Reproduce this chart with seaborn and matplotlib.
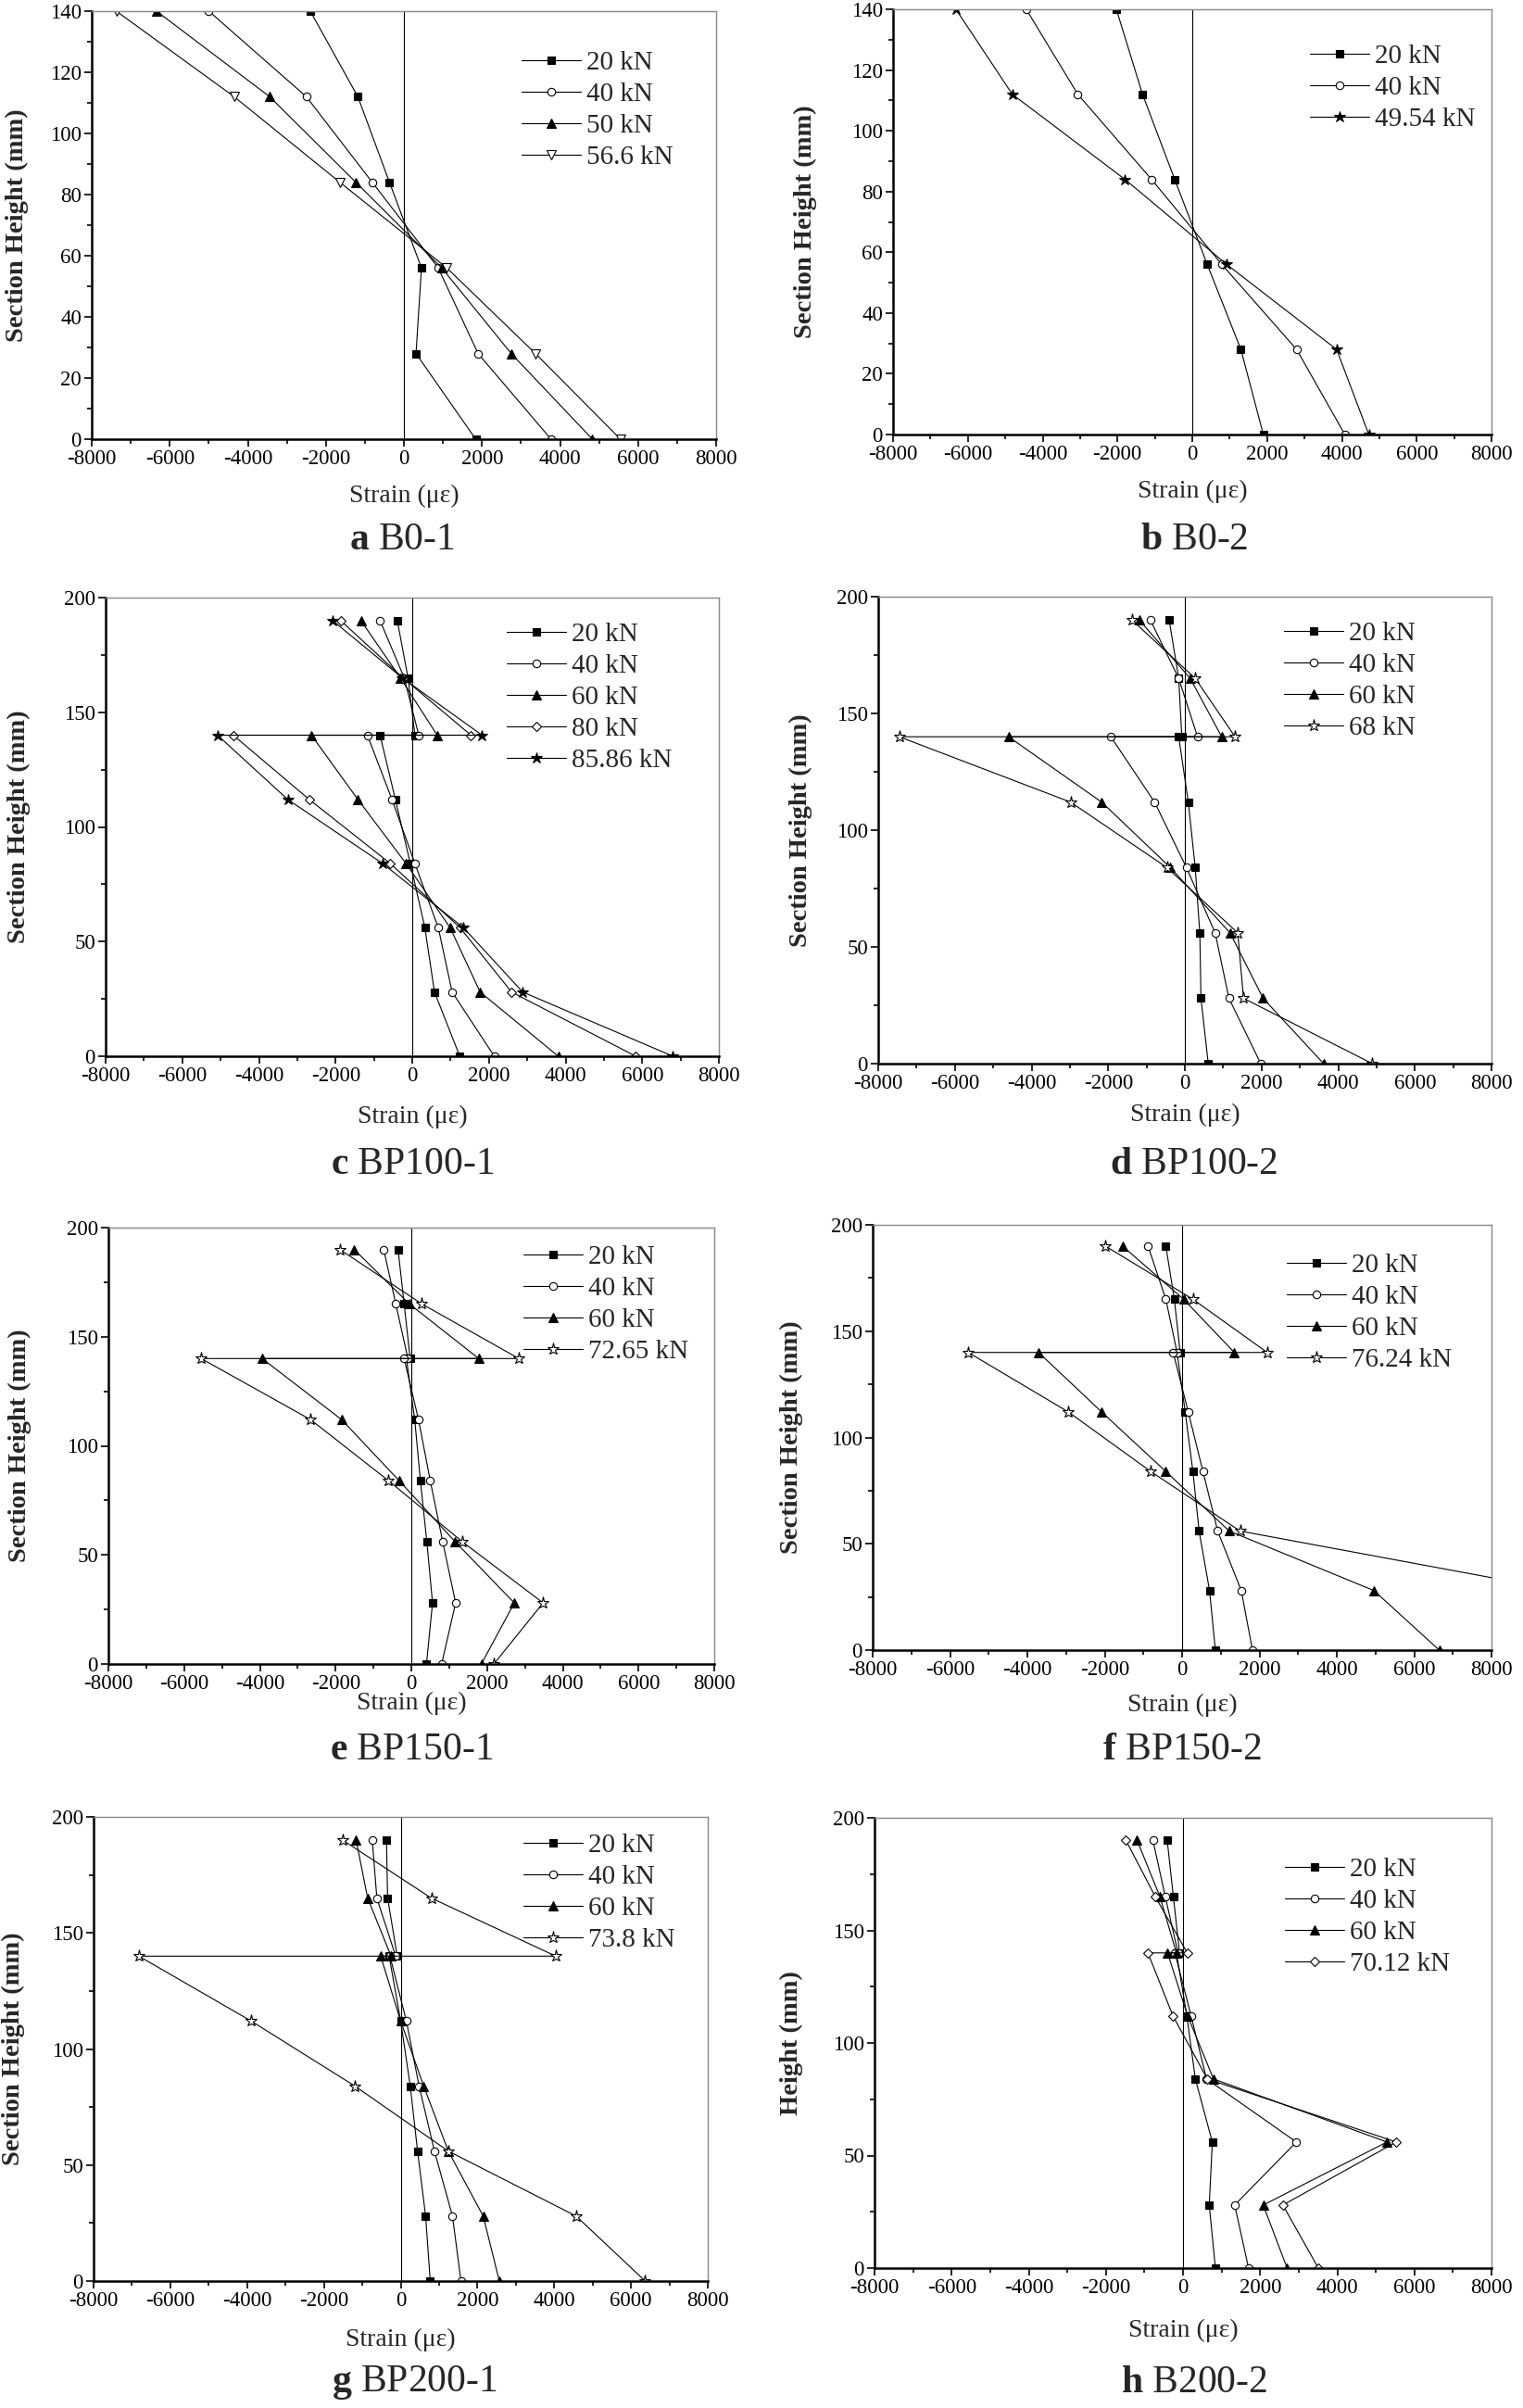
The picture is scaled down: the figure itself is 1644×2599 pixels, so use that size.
import matplotlib
matplotlib.use("Agg")
import matplotlib.pyplot as plt
from matplotlib.ticker import MultipleLocator
import seaborn as sns

# section heights (mm); the BP/B200 beams have two gauges at 140 mm
h_b0 = [140, 112, 84, 56, 28, 0]
h_bp = [190, 165, 140, 140, 112, 84, 56, 28, 0]

# a  B0-1
a_labels = ["20 kN", "40 kN", "50 kN", "56.6 kN"]
a_20 = [-2400, -1180, -370, 450, 310, 1840]
a_40 = [-5000, -2500, -810, 880, 1900, 3770]
a_50 = [-6340, -3440, -1230, 970, 2750, 4830]
a_566 = [-7370, -4350, -1640, 1100, 3370, 5550]

# b  B0-2
b_labels = ["20 kN", "40 kN", "49.54 kN"]
b_20 = [-2030, -1330, -470, 400, 1300, 1900]
b_40 = [-4440, -3060, -1090, 790, 2790, 4080]
b_4954 = [-6320, -4810, -1800, 920, 3860, 4720]

# c  BP100-1
c_labels = ["20 kN", "40 kN", "60 kN", "80 kN", "85.86 kN"]
c_20 = [-390, -110, 70, -840, -440, -50, 330, 580, 1240]
c_40 = [-840, -210, 170, -1170, -530, 70, 680, 1040, 2140]
c_60 = [-1340, -310, 650, -2630, -1420, -160, 990, 1770, 3810]
c_80 = [-1870, -240, 1530, -4670, -2690, -570, 1250, 2590, 5830]
c_8586 = [-2080, -260, 1820, -5080, -3250, -770, 1340, 2880, 6800]

# d  BP100-2
d_labels = ["20 kN", "40 kN", "60 kN", "68 kN"]
d_20 = [-410, -160, -80, -160, 90, 270, 390, 420, 610]
d_40 = [-900, -160, 330, -1930, -790, 40, 790, 1150, 1980]
d_60 = [-1190, 140, 960, -4600, -2170, -380, 1180, 2040, 3620]
d_68 = [-1380, 270, 1310, -7450, -2980, -470, 1380, 1530, 4890]

# e  BP150-1
e_labels = ["20 kN", "40 kN", "60 kN", "72.65 kN"]
e_20 = [-350, -190, -30, -130, 90, 240, 410, 560, 400]
e_40 = [-730, -410, -90, -190, 190, 500, 830, 1170, 800]
e_60 = [-1510, -50, 1780, -3940, -1840, -320, 1160, 2720, 1850]
e_7265 = [-1890, 280, 2840, -5550, -2660, -600, 1350, 3480, 2180]

# f  BP150-2 (76.24 kN runs off the axis below 56 mm, bottom gauge not visible)
f_labels = ["20 kN", "40 kN", "60 kN", "76.24 kN"]
f_20 = [-420, -200, -50, -130, 80, 280, 440, 710, 860]
f_40 = [-880, -420, -130, -230, 160, 540, 920, 1530, 1820]
f_60 = [-1540, 40, 1350, -3710, -2080, -420, 1220, 4960, 6650]
f_7624 = [-1980, 280, 2200, -5530, -2940, -810, 1500, 9800]

# g  BP200-1
g_labels = ["20 kN", "40 kN", "60 kN", "73.8 kN"]
g_20 = [-370, -340, -90, -300, 0, 250, 440, 650, 770]
g_40 = [-740, -620, -130, -280, 150, 480, 880, 1350, 1570]
g_60 = [-1160, -860, -250, -520, 0, 600, 1240, 2150, 2570]
g_738 = [-1510, 800, 4040, -6820, -3890, -1190, 1240, 4570, 6370]

# h  B200-2
h_labels = ["20 kN", "40 kN", "60 kN", "70.12 kN"]
h_20 = [-410, -250, -90, -170, 100, 320, 760, 680, 840]
h_40 = [-780, -460, -130, -210, 210, 610, 2940, 1340, 1700]
h_60 = [-1190, -600, -170, -400, 120, 790, 5290, 2080, 2700]
h_7012 = [-1480, -720, 110, -910, -260, 630, 5530, 2590, 3510]

# marker styles: (marker, face, size)
SQ = ("s", "k", 6)
CI = ("o", "w", 6)
TR = ("^", "k", 7)
TD = ("v", "w", 7)
SF = ("*", "k", 9)
SO = ("*", "w", 9.5)
DI = ("D", "w", 5.5)

sns.set_style("ticks")
plt.rcParams["font.family"] = ["Liberation Serif", "DejaVu Serif"]
plt.rcParams["mathtext.fontset"] = "custom"
plt.rcParams["mathtext.rm"] = "Liberation Serif"
plt.rcParams["mathtext.bf"] = "Liberation Serif:bold"
plt.rcParams["axes.unicode_minus"] = False

W, H = 1644, 2599
fig = plt.figure(figsize=(W / 100, H / 100), dpi=100)

# panel layout in pixels
panels = [
    dict(box=(99, 12, 773, 474), h=h_b0, s=[a_20, a_40, a_50, a_566], lab=a_labels,
         sty=[SQ, CI, TR, TD], ymax=140, ymaj=20, yl="Section Height (mm)",
         yl_x=18, xl_y=535, leg=(563, 55), cap=(434, 583, "a", "B0-1")),
    dict(box=(964, 10, 1610, 469), h=h_b0, s=[b_20, b_40, b_4954], lab=b_labels,
         sty=[SQ, CI, SF], ymax=140, ymaj=20, yl="Section Height (mm)",
         yl_x=869, xl_y=530, leg=(1414, 48), cap=(1289, 583, "b", "B0-2")),
    dict(box=(114, 645, 776, 1140), h=h_bp, s=[c_20, c_40, c_60, c_80, c_8586], lab=c_labels,
         sty=[SQ, CI, TR, DI, SF], ymax=200, ymaj=50, yl="Section Height (mm)",
         yl_x=20, xl_y=1205, leg=(547, 672), cap=(445, 1257, "c", "BP100-1")),
    dict(box=(948, 644, 1610, 1148), h=h_bp, s=[d_20, d_40, d_60, d_68], lab=d_labels,
         sty=[SQ, CI, TR, SO], ymax=200, ymaj=50, yl="Section Height (mm)",
         yl_x=864, xl_y=1203, leg=(1386, 671), cap=(1289, 1257, "d", "BP100-2")),
    dict(box=(117, 1325, 771, 1796), h=h_bp, s=[e_20, e_40, e_60, e_7265], lab=e_labels,
         sty=[SQ, CI, TR, SO], ymax=200, ymaj=50, yl="Section Height (mm)",
         yl_x=21, xl_y=1838, leg=(565, 1344), cap=(444, 1889, "e", "BP150-1")),
    dict(box=(942, 1322, 1610, 1781), h=h_bp, s=[f_20, f_40, f_60, f_7624], lab=f_labels,
         sty=[SQ, CI, TR, SO], ymax=200, ymaj=50, yl="Section Height (mm)",
         yl_x=854, xl_y=1840, leg=(1389, 1353), cap=(1276, 1889, "f", "BP150-2")),
    dict(box=(101, 1961, 764, 2462), h=h_bp, s=[g_20, g_40, g_60, g_738], lab=g_labels,
         sty=[SQ, CI, TR, SO], ymax=200, ymaj=50, yl="Section Height (mm)",
         yl_x=14, xl_y=2525, leg=(565, 1979), cap=(447, 2572, "g", "BP200-1")),
    dict(box=(944, 1962, 1610, 2448), h=h_bp, s=[h_20, h_40, h_60, h_7012], lab=h_labels,
         sty=[SQ, CI, TR, DI], ymax=200, ymaj=50, yl="Height (mm)",
         yl_x=854, xl_y=2515, leg=(1387, 2005), cap=(1289, 2572, "h", "B200-2")),
]

for p in panels:
    l, t, r, b = p["box"]
    ax = fig.add_axes([l / W, 1 - b / H, (r - l) / W, (b - t) / H])
    ax.axvline(0, color="k", lw=0.8, zorder=1)

    handles = []
    for strain, lab, (m, fc, ms) in zip(p["s"], p["lab"], p["sty"]):
        sns.lineplot(x=strain, y=p["h"][:len(strain)], sort=False, estimator=None,
                     ax=ax, color="k", lw=0.8, marker=m, markersize=ms,
                     markerfacecolor=fc, markeredgecolor="k", markeredgewidth=0.8,
                     label=lab, legend=False)
        handles.append(ax.lines[-1])

    ax.set_xlim(-8000, 8000)
    ax.set_ylim(0, p["ymax"])
    ax.xaxis.set_major_locator(MultipleLocator(2000))
    ax.xaxis.set_minor_locator(MultipleLocator(1000))
    ax.yaxis.set_major_locator(MultipleLocator(p["ymaj"]))
    ax.yaxis.set_minor_locator(MultipleLocator(p["ymaj"] / 2))
    ax.tick_params(which="both", direction="out", top=False, right=False,
                   labelsize=16.5, width=1.2, pad=2, colors="k")
    ax.tick_params(which="major", length=6)
    ax.tick_params(which="minor", length=3.5)
    for side in ["left", "bottom"]:
        ax.spines[side].set_linewidth(1.8)
        ax.spines[side].set_color("k")
    for side in ["top", "right"]:
        ax.spines[side].set_linewidth(1.0)
        ax.spines[side].set_color("#888888")

    ax.set_xlabel("Strain (\u03bc\u03b5)", fontsize=20)
    ax.xaxis.label.set_va("center")
    ax.xaxis.set_label_coords(0.5, -(p["xl_y"] - b) / (b - t))
    ax.set_ylabel(p["yl"], fontsize=20.5, fontweight="bold")
    ax.yaxis.label.set_va("center")
    ax.yaxis.set_label_coords((p["yl_x"] - l) / (r - l), 0.5)

    lx, ly = p["leg"]
    ax.legend(handles=handles, labels=p["lab"], loc="upper left",
              bbox_to_anchor=(lx / W, 1 - ly / H), bbox_transform=fig.transFigure,
              frameon=False, fontsize=21, handlelength=2.2, handletextpad=0.2,
              labelspacing=0.26, borderpad=0, borderaxespad=0)

    cx, cy, letter, name = p["cap"]
    fig.text(cx / W, 1 - cy / H, r"$\mathbf{%s}$ %s" % (letter, name),
             ha="center", va="center", fontsize=30)

fig.savefig("out.png", dpi=100)
